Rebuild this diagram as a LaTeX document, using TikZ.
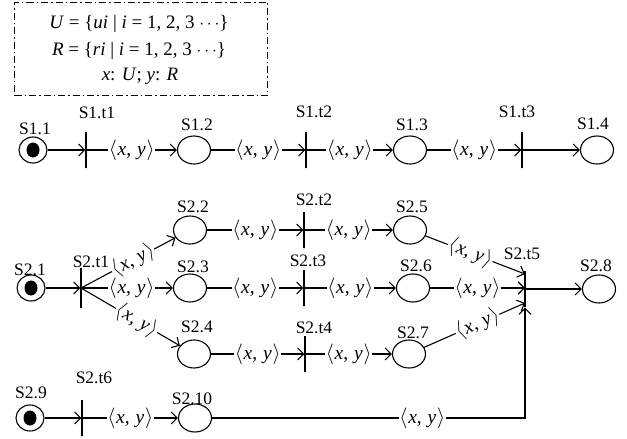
\documentclass[tikz,border=0pt]{standalone}
\usepackage{fontspec}
\setmainfont{Liberation Serif}
\usetikzlibrary{arrows.meta,shapes.geometric}
\newcommand{\pxy}{$\langle$\kern0.8pt\textit{x},\kern1pt\ \textit{y}\kern0.8pt$\rangle$}
\begin{document}
\begin{tikzpicture}[x=1pt,y=-1pt, font=\fontsize{17.5pt}{20pt}\selectfont,
 place/.style={draw, ellipse, minimum width=33pt, minimum height=28pt, inner sep=0pt, line width=1.1pt},
 startplace/.style={draw, ellipse, minimum width=28pt, minimum height=26pt, inner sep=0pt, line width=1.1pt},
 trans/.style={draw, rectangle, minimum width=0pt, minimum height=36pt, inner sep=0pt, line width=1.1pt},
 pname/.style={anchor=base, inner sep=0pt},
 boxtext/.style={anchor=base, inner sep=0pt, font=\fontsize{19pt}{22pt}\selectfont},
 arc/.style={-{Straight Barb[length=6pt,width=12pt,line width=1.1pt]}, line width=1.1pt},
 xy/.style={fill=white, inner sep=0.8pt, font=\fontsize{19.5pt}{22pt}\selectfont}]
\useasboundingbox (0,0) rectangle (627,439);

% declaration box
\node[draw, dash pattern=on 7pt off 3pt on 1.5pt off 3pt, line width=1pt,
      minimum width=253pt, minimum height=93pt, anchor=north west, inner sep=0pt] (box) at (14,2) {};
\node[boxtext] (m1) at (139,28) {\textit{U} = \{\textit{ui} | \textit{i} = 1, 2, 3 $\cdots$\}};
\node[boxtext] (m2) at (139,55) {\textit{R} = \{\textit{ri} | \textit{i} = 1, 2, 3 $\cdots$\}};
\node[boxtext] (m3) at (140,80) {\textit{x}: \textit{U}; \textit{y}: \textit{R}};

% row 1
\node[startplace] (S11) at (33,150) {};
\fill (S11.center) ellipse [x radius=6.5pt, y radius=7.5pt];
\node[trans] (t11) at (86,150) {};
\node[place] (S12) at (194,150) {};
\node[trans] (t12) at (306,150) {};
\node[place] (S13) at (410,150) {};
\node[trans] (t13) at (522,150) {};
\node[place] (S14) at (597,150) {};

\node[pname] (lS11) at (35,134) {S1.1};
\node[pname] (lt11) at (97,118) {S1.t1};
\node[pname] (lS12) at (197,130) {S1.2};
\node[pname] (lt12) at (314,117) {S1.t2};
\node[pname] (lS13) at (412,130) {S1.3};
\node[pname] (lt13) at (517,117) {S1.t3};
\node[pname] (lS14) at (593,129) {S1.4};

\draw[arc] (S11) -- (t11);
\draw[arc] (t11) -- node[xy]{\pxy} (S12);
\draw[arc] (S12) -- node[xy]{\pxy} (t12);
\draw[arc] (t12) -- node[xy]{\pxy} (S13);
\draw[arc] (S13) -- node[xy]{\pxy} (t13);
\draw[arc] (t13) -- (S14);

% row 2
\node[startplace] (S21) at (31,288) {};
\fill (S21.center) ellipse [x radius=6.5pt, y radius=7.5pt];
\node[trans, minimum height=40pt] (t21) at (81,288) {};
\node[place] (S22) at (190,230) {};
\node[trans] (t22) at (304,230) {};
\node[place] (S25) at (410,230) {};
\node[place] (S23) at (190,288) {};
\node[trans] (t23) at (304,288) {};
\node[place] (S26) at (413,288) {};
\node[trans] (t25) at (525,289) {};
\node[place] (S28) at (599,289) {};
\node[place] (S24) at (194,354) {};
\node[trans] (t24) at (305,354) {};
\node[place] (S27) at (409,354) {};
\coordinate (t5a) at (525,274);
\coordinate (t5c) at (525,303);

\node[pname] (lS21) at (30,275) {S2.1};
\node[pname] (lt21) at (91,267) {S2.t1};
\node[pname] (lS22) at (193,212) {S2.2};
\node[pname] (lS23) at (193,272) {S2.3};
\node[pname] (lt22) at (314,205) {S2.t2};
\node[pname] (lt23) at (308,266) {S2.t3};
\node[pname] (lS25) at (412,212) {S2.5};
\node[pname] (lS26) at (416,271) {S2.6};
\node[pname] (lt25) at (522,259) {S2.t5};
\node[pname] (lS28) at (596,271) {S2.8};
\node[pname] (lS24) at (197,332) {S2.4};
\node[pname] (lt24) at (314,333) {S2.t4};
\node[pname] (lS27) at (413,338) {S2.7};

\draw[arc] (S21) -- (t21);
\draw[arc] (t21.center) -- node[xy,sloped,pos=0.55]{\pxy} (S22);
\draw[arc] (t21.center) -- node[xy,pos=0.55]{\pxy} (S23);
\draw[arc] (t21.center) -- node[xy,sloped,pos=0.56]{\pxy} (S24);
\draw[arc] (S22) -- node[xy]{\pxy} (t22);
\draw[arc] (t22) -- node[xy]{\pxy} (S25);
\draw[arc] (S25) -- node[xy,sloped,pos=0.45]{\pxy} (t5a);
\draw[arc] (S23) -- node[xy]{\pxy} (t23);
\draw[arc] (t23) -- node[xy]{\pxy} (S26);
\draw[arc] (S26) -- node[xy]{\pxy} (S26 -| t25);
\draw[arc] (S24) -- node[xy]{\pxy} (t24);
\draw[arc] (t24) -- node[xy]{\pxy} (S27);
\draw[arc] (S27) -- node[xy,sloped,pos=0.53]{\pxy} (t5c);
\draw[arc] (t25) -- (S28);

% row 3
\node[startplace] (S29) at (30,418) {};
\fill (S29.center) ellipse [x radius=6.5pt, y radius=7.5pt];
\node[trans] (t26) at (82,418) {};
\node[place] (S210) at (195,418) {};

\node[pname] (lS29) at (31,398) {S2.9};
\node[pname] (lt26) at (94,383) {S2.t6};
\node[pname] (lS210) at (192,404) {S2.10};

\draw[arc] (S29) -- (t26);
\draw[arc] (t26) -- node[xy]{\pxy} (S210);
\draw[arc] (S210.east) -| node[xy,pos=0.336]{\pxy} (t25.south);
\end{tikzpicture}
\end{document}
